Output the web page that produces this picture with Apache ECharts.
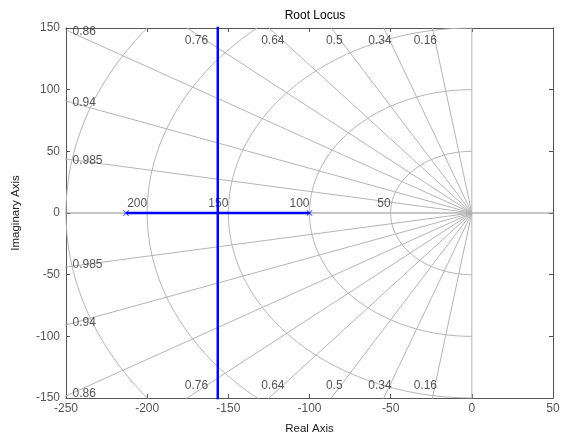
<!DOCTYPE html>
<html>
<head>
<meta charset="utf-8">
<script src="https://cdn.jsdelivr.net/npm/echarts@6/dist/echarts.min.js"></script>
<style>html,body{margin:0;padding:0;background:#fff}#c{width:563px;height:440px}</style>
</head>
<body>
<div id="c"></div>
<script>
// ---- data ----
var xTicks = [-250, -200, -150, -100, -50, 0, 50];
var yTicks = [-150, -100, -50, 0, 50, 100, 150];
var zetaValues = [0.16, 0.34, 0.5, 0.64, 0.76, 0.86, 0.94, 0.985];
var zetaLabelSide = ['top', 'top', 'top', 'top', 'top', 'left', 'left', 'left'];
var wnValues = [50, 100, 150, 200, 250];
var wnLabels = [50, 100, 150, 200];
var poles = [-213, -100];
var breakaway = -156.5;
var branchUp = [[-213, 0], [-156.5, 0], [-156.5, 400]];
var branchDown = [[-100, 0], [-156.5, 0], [-156.5, -400]];

var FONT = 'Liberation Sans, Arial, sans-serif';
var GRIDC = '#b4b4b4';
var series = [];

// real & imaginary axis lines (zeta = 1 and zeta = 0)
series.push({type:'line', silent:true, symbol:'none', clip:true, z:1,
  lineStyle:{color:'#8c8c8c', width:1}, data:[[-400,0],[400,0]]});
series.push({type:'line', silent:true, symbol:'none', clip:true, z:1,
  lineStyle:{color:GRIDC, width:1}, data:[[0,-400],[0,400]]});

// constant damping lines
zetaValues.forEach(function(z){
  var s = Math.sqrt(1 - z*z);
  [1, -1].forEach(function(sg){
    series.push({type:'line', silent:true, symbol:'none', clip:true, z:1,
      lineStyle:{color:GRIDC, width:1},
      data:[[0,0],[-600*z, sg*600*s]]});
  });
});

// constant natural-frequency arcs
wnValues.forEach(function(w){
  var pts = [];
  for (var i = 0; i <= 180; i++) {
    var a = Math.PI/2 + Math.PI * i / 180;
    pts.push([w*Math.cos(a), w*Math.sin(a)]);
  }
  series.push({type:'line', silent:true, symbol:'none', clip:true, z:1,
    lineStyle:{color:GRIDC, width:1}, data:pts});
});

// damping labels
var zLabelData = [];
zetaValues.forEach(function(z, i){
  var t = Math.sqrt(1 - z*z) / z;
  [1, -1].forEach(function(sg){
    if (zetaLabelSide[i] === 'top') {
      zLabelData.push({value:[-140/t, sg*140], label:{show:true, formatter:String(z),
        position:'left', distance:-2, align:'right', verticalAlign:'middle'}});
    } else {
      zLabelData.push({value:[-246, sg*250*t - sg*1.5], label:{show:true, formatter:String(z),
        position:'right', distance:0, align:'left', verticalAlign:'middle'}});
    }
  });
});
series.push({type:'scatter', silent:true, symbolSize:0, z:5, data:zLabelData,
  label:{color:'#2a2a2a', fontSize:12, fontFamily:FONT}});

// natural frequency labels
series.push({type:'scatter', silent:true, symbolSize:0, z:5,
  data:wnLabels.map(function(w){ return {value:[-w, 0], label:{show:true, formatter:String(w)}}; }),
  label:{color:'#2a2a2a', fontSize:12, fontFamily:FONT, position:'left', distance:0,
    align:'right', verticalAlign:'bottom', offset:[0,-3]}});

// root locus branches
series.push({type:'line', symbol:'none', clip:true, z:6,
  lineStyle:{color:'#0000ff', width:2.5}, data:branchUp});
series.push({type:'line', symbol:'none', clip:true, z:6,
  lineStyle:{color:'#0000ff', width:2.5}, data:branchDown});
// open loop poles
series.push({type:'scatter', z:7,
  symbol:'path://M0,1L1,0L5,4L9,0L10,1L6,5L10,9L9,10L5,6L1,10L0,9L4,5Z',
  symbolSize:6, itemStyle:{color:'#0000ff'},
  data:poles.map(function(p){ return [p, 0]; })});

var axisLine = {show:true, onZero:false, lineStyle:{color:'#555', width:1}};
var axisTick = {show:true, inside:true, length:4, lineStyle:{color:'#555'}};

var option = {
  animation:false,
  backgroundColor:'#fff',
  title:{text:'Root Locus', left:310, top:5, textAlign:'center',
    textStyle:{fontSize:12, fontWeight:'normal', color:'#000', fontFamily:FONT}},
  grid:{left:66, right:10, top:28, bottom:39, containLabel:false},
  xAxis:[
    {type:'value', min:-250, max:50, interval:50, position:'bottom',
     axisLine:axisLine, axisTick:axisTick, splitLine:{show:false},
     axisLabel:{color:'#555', fontSize:12, fontFamily:FONT, margin:5,
       customValues:xTicks},
     name:'Real Axis', nameLocation:'middle', nameGap:25,
     nameTextStyle:{color:'#222', fontSize:11.5, fontFamily:FONT}},
    {type:'value', min:-250, max:50, interval:50, position:'top',
     axisLine:axisLine, axisTick:axisTick, axisLabel:{show:false}, splitLine:{show:false}}
  ],
  yAxis:[
    {type:'value', min:-150, max:150, interval:50, position:'left',
     axisLine:axisLine, axisTick:axisTick, splitLine:{show:false},
     axisLabel:{color:'#555', fontSize:12, fontFamily:FONT, margin:6,
       customValues:yTicks},
     name:'Imaginary Axis', nameLocation:'middle', nameGap:44, nameRotate:90,
     nameTextStyle:{color:'#222', fontSize:11.5, fontFamily:FONT}},
    {type:'value', min:-150, max:150, interval:50, position:'right',
     axisLine:axisLine, axisTick:axisTick, axisLabel:{show:false}, splitLine:{show:false}}
  ],
  series:series
};
echarts.init(document.getElementById('c'), null, {renderer:'canvas'}).setOption(option);
</script>
</body>
</html>
